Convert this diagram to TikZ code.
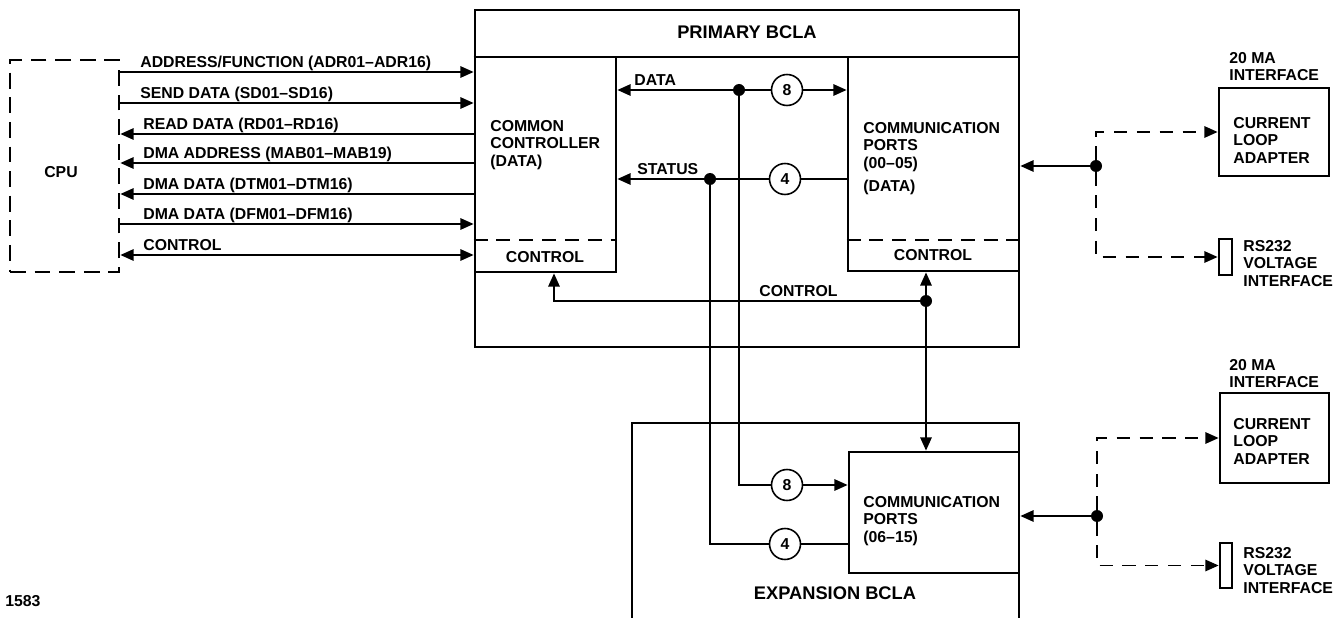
\documentclass[tikz,border=0pt]{standalone}
\usepackage{fontspec}
\setmainfont{Liberation Sans}
\usetikzlibrary{arrows.meta,fit}

\begin{document}
\begin{tikzpicture}[x=0.02cm,y=-0.02cm,
  >={Triangle[length=7.5pt,width=6.5pt]},
  blk/.style={draw,line width=1.6pt,inner sep=0pt},
  bus/.style={line width=0.9pt},
  lbl/.style={font=\fontsize{9}{10}\selectfont\bfseries,inner sep=0pt},
  txt/.style={lbl,align=left,anchor=north west},
  big/.style={font=\fontsize{10.4}{12}\selectfont\bfseries,inner sep=0pt},
  num/.style={circle,draw,line width=0.9pt,minimum size=0.62cm,inner sep=0pt,font=\fontsize{9}{10}\selectfont\bfseries},
  dot/.style={circle,fill,inner sep=0pt,minimum size=0.24cm},
  opt/.style={bus,dash pattern=on 7.5pt off 5.5pt}]
\useasboundingbox (0,0) rectangle (1343,618);

% cpu and its bus lines
\node[blk,dash pattern=on 9pt off 5pt,fit={(10,60) (119,272)}] (cpu) {};
\node[lbl] (cpulbl) at (61,172) {CPU};

% primary bcla
\node[blk,fit={(475,10) (1019,347)}] (pri) {};
\node[big] (prilbl) at (747,32) {PRIMARY BCLA};
\draw[line width=1.6pt] (pri.west |- 0,57) -- (pri.east |- 0,57);
\node[blk,fit={(475,57) (616,272)}] (cc) {};
\draw[line width=1.6pt,dash pattern=on 8pt off 5pt] (cc.west |- 0,240) -- (cc.east |- 0,240);
\node[txt] (cctxt) at (490,120) {COMMON\\CONTROLLER\\(DATA)};
\node[lbl] (ccctl) at (545,257) {CONTROL};
\node[blk,fit={(848,57) (1019,271)}] (cp1) {};
\draw[line width=1.6pt,dash pattern=on 8pt off 5pt] (cp1.west |- 0,240) -- (cp1.east |- 0,240);
\node[txt] (cp1txt) at (863,122) {COMMUNICATION\\PORTS\\(00–05)\\[3pt](DATA)};
\node[lbl] (cp1ctl) at (933,255) {CONTROL};

\draw[bus,->] (cpu.east |- 0,72) -- (cc.west |- 0,72);
\node[lbl,anchor=base west] (l1) at (140,68) {ADDRESS/FUNCTION (ADR01–ADR16)};
\draw[bus,->] (cpu.east |- 0,103) -- (cc.west |- 0,103);
\node[lbl,anchor=base west] (l2) at (140,99) {SEND DATA (SD01–SD16)};
\draw[bus,<-] (cpu.east |- 0,134) -- (cc.west |- 0,134);
\node[lbl,anchor=base west] (l3) at (143,130) {READ DATA (RD01–RD16)};
\draw[bus,<-] (cpu.east |- 0,163) -- (cc.west |- 0,163);
\node[lbl,anchor=base west] (l4) at (143,159) {DMA ADDRESS (MAB01–MAB19)};
\draw[bus,<-] (cpu.east |- 0,194) -- (cc.west |- 0,194);
\node[lbl,anchor=base west] (l5) at (143,190) {DMA DATA (DTM01–DTM16)};
\draw[bus,->] (cpu.east |- 0,224) -- (cc.west |- 0,224);
\node[lbl,anchor=base west] (l6) at (143,220) {DMA DATA (DFM01–DFM16)};
\draw[bus,<->] (cpu.east |- 0,255) -- (cc.west |- 0,255);
\node[lbl,anchor=base west] (l7) at (143,251) {CONTROL};

% data and status paths
\node[dot] (ddat) at (739,90) {};
\node[num] (n8a) at (787,90) {8};
\draw[bus,->] (ddat) -- (cc.east |- ddat);
\draw[bus] (ddat) -- (n8a);
\draw[bus,->] (n8a) -- (cp1.west |- n8a);
\node[lbl,anchor=base west] (datlbl) at (634,86) {DATA};
\node[dot] (dsta) at (710,179) {};
\node[num] (n4a) at (785,179) {4};
\draw[bus] (cp1.west |- n4a) -- (n4a);
\draw[bus,->] (n4a) -- (cc.east |- n4a);
\node[lbl,anchor=base west] (stalbl) at (637,175) {STATUS};

% control path
\node[dot] (dctl) at (926,301) {};
\draw[bus,->] (dctl) -- (dctl |- cp1.south);
\draw[bus,->] (dctl) -| (554,0 |- cc.south);
\node[lbl,anchor=base west] (ctllbl) at (759,297) {CONTROL};

% expansion bcla
\draw[line width=1.6pt] (632,625) |- (1019,423) -- (1019,625);
\node[big] (explbl) at (835,593) {EXPANSION BCLA};
\node[blk,fit={(849,452) (1019,573)}] (cp2) {};
\node[txt] (cp2txt) at (863,496) {COMMUNICATION\\PORTS\\(06–15)};
\draw[bus,->] (dctl) -- (dctl |- cp2.north);
\node[num] (n8b) at (787,485) {8};
\node[num] (n4b) at (785,544) {4};
\draw[bus] (ddat) |- (n8b);
\draw[bus,->] (n8b) -- (cp2.west |- n8b);
\draw[bus] (dsta) |- (n4b);
\draw[bus] (n4b) -- (cp2.west |- n4b);

% interfaces, upper
\node[dot] (dj1) at (1096,166) {};
\draw[bus,->] (dj1) -- (cp1.east |- dj1);
\node[blk,fit={(1219,88) (1329,176)}] (cla1) {};
\node[blk,fit={(1219,239) (1232,275)}] (rs1) {};
\draw[opt,->] (dj1) |- (cla1.west);
\draw[opt,->] (dj1) |- (rs1.west);
\node[txt] (ma1) at (1229,52) {20 MA\\INTERFACE};
\node[txt] (cla1txt) at (1233,117) {CURRENT\\LOOP\\ADAPTER};
\node[txt] (rs1txt) at (1243,240) {RS232\\VOLTAGE\\INTERFACE};

% interfaces, lower
\node[dot] (dj2) at (1097,516) {};
\draw[bus,->] (dj2) -- (cp2.east |- dj2);
\node[blk,fit={(1220,393) (1329,483)}] (cla2) {};
\node[blk,fit={(1220,543) (1232,588)}] (rs2) {};
\draw[opt,->] (dj2) |- (cla2.west);
\draw[opt,->] (dj2) |- (rs2.west);
\node[txt] (ma2) at (1229,359) {20 MA\\INTERFACE};
\node[txt] (cla2txt) at (1233,418) {CURRENT\\LOOP\\ADAPTER};
\node[txt] (rs2txt) at (1243,547) {RS232\\VOLTAGE\\INTERFACE};

\node[lbl,anchor=west] (fig) at (5,601) {1583};
\end{tikzpicture}
\end{document}
